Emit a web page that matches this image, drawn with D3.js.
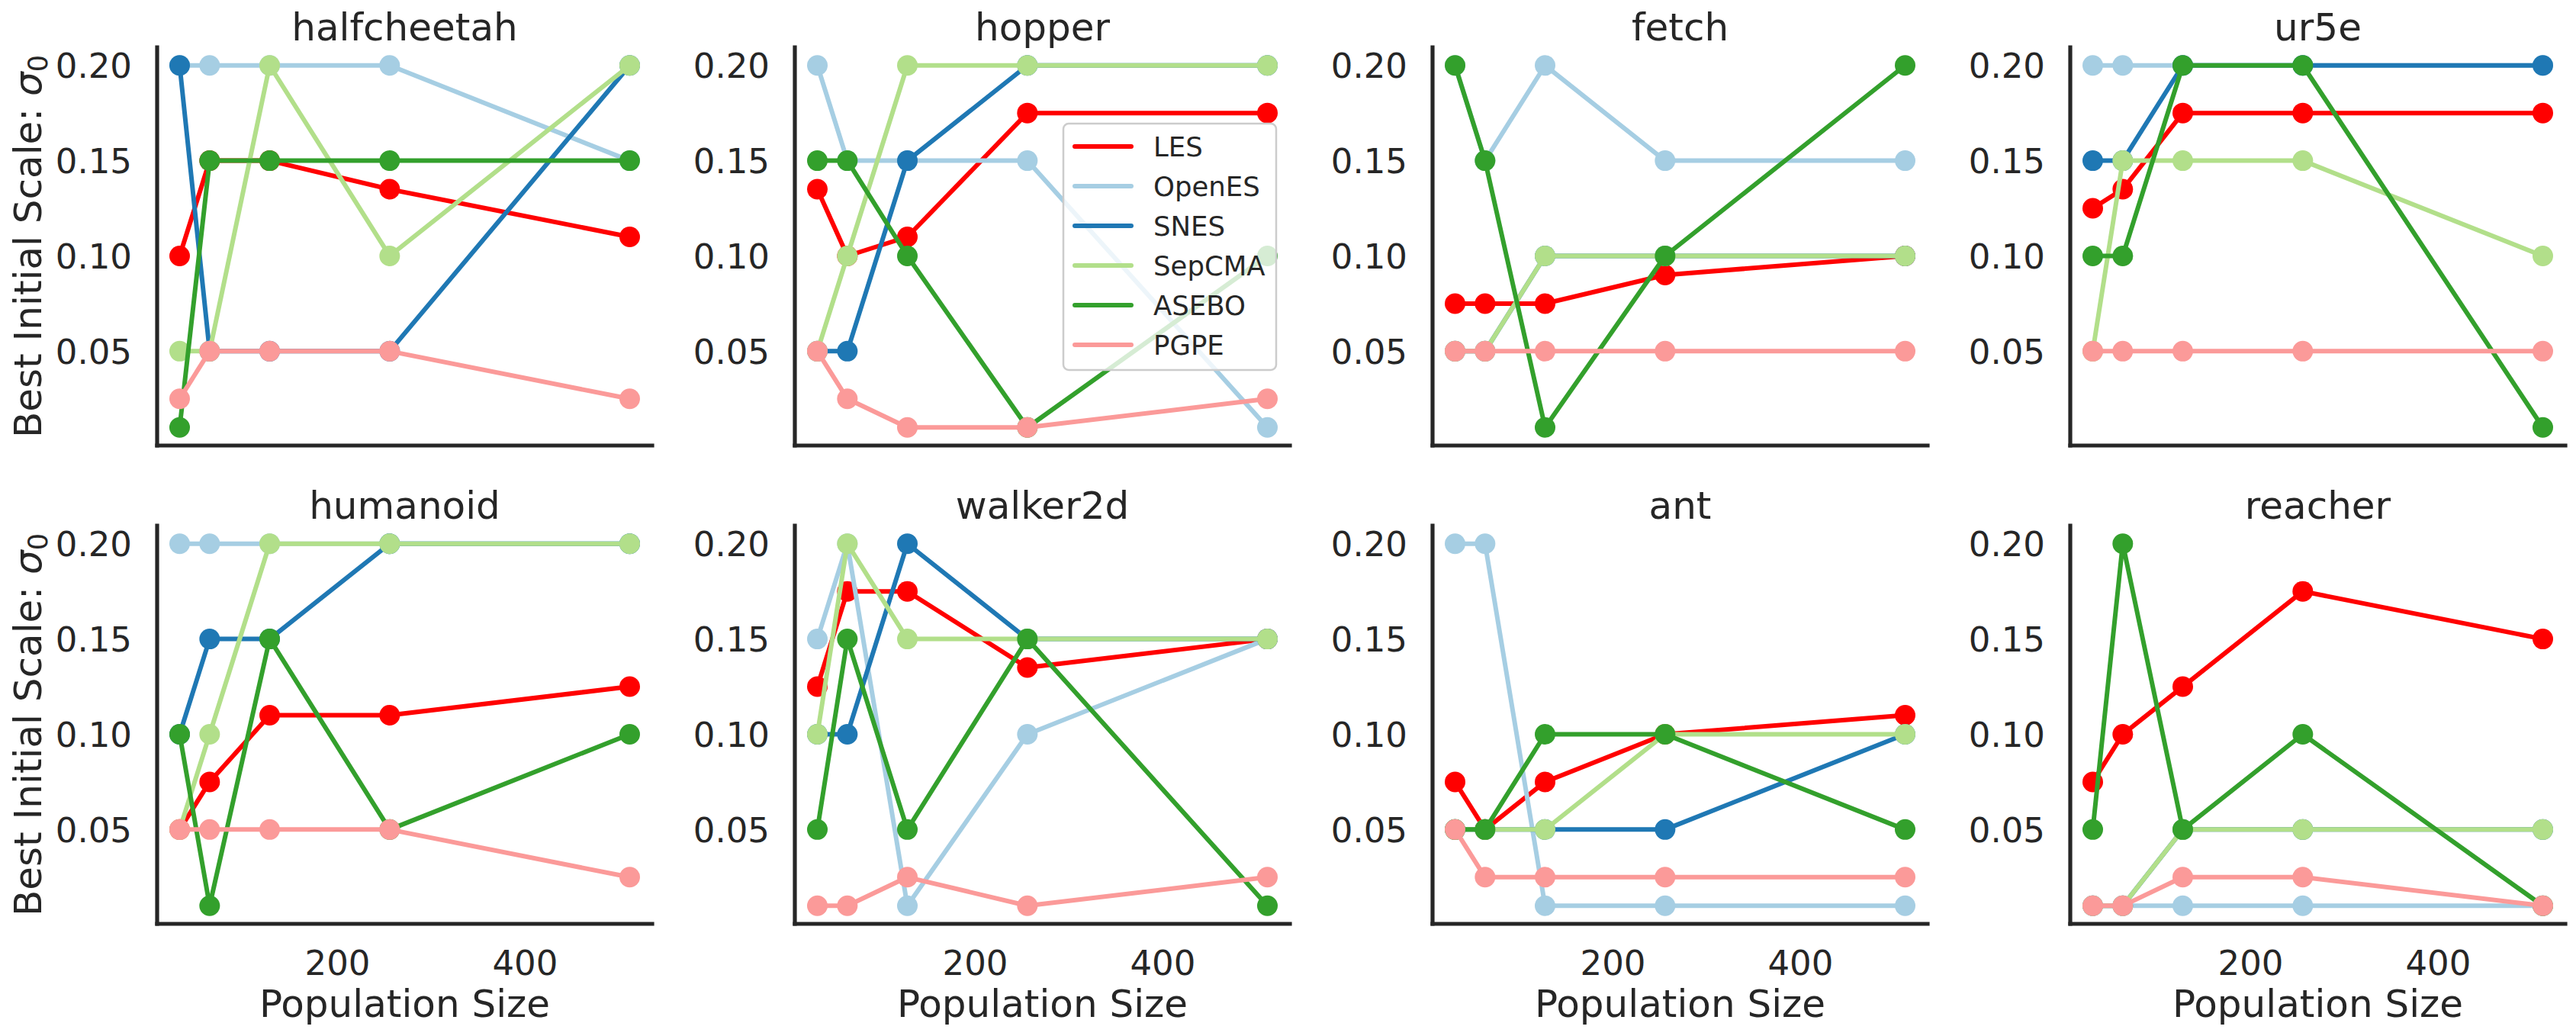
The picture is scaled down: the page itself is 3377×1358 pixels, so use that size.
<!DOCTYPE html>
<html>
<head>
<meta charset="utf-8">
<script src="https://cdn.jsdelivr.net/npm/d3@7"></script>
<style>
  body { margin: 0; background: #fff; }
  text { font-family: "DejaVu Sans", sans-serif; fill: #262626; }
</style>
</head>
<body>
<div id="chart"></div>
<script>
// Data
const popSizes = [32, 64, 128, 256, 512];
const methods = ["LES", "OpenES", "SNES", "SepCMA", "ASEBO", "PGPE"];
const methodColors = ["#ff0000", "#a6cee3", "#1f78b4", "#b2df8a", "#33a02c", "#fb9a99"];
const tasks = ["halfcheetah", "hopper", "fetch", "ur5e", "humanoid", "walker2d", "ant", "reacher"];
const yTicks = [0.05, 0.10, 0.15, 0.20];
const xTicks = [200, 400];

// one row per method (same order as `methods`), one value per population size
const halfcheetah = [
    [0.1, 0.15, 0.15, 0.135, 0.11],
    [0.2, 0.2, 0.2, 0.2, 0.15],
    [0.2, 0.05, 0.05, 0.05, 0.2],
    [0.05, 0.05, 0.2, 0.1, 0.2],
    [0.01, 0.15, 0.15, 0.15, 0.15],
    [0.025, 0.05, 0.05, 0.05, 0.025]
];
const hopper = [
    [0.135, 0.1, 0.11, 0.175, 0.175],
    [0.2, 0.15, 0.15, 0.15, 0.01],
    [0.05, 0.05, 0.15, 0.2, 0.2],
    [0.05, 0.1, 0.2, 0.2, 0.2],
    [0.15, 0.15, 0.1, 0.01, 0.1],
    [0.05, 0.025, 0.01, 0.01, 0.025]
];
const fetch = [
    [0.075, 0.075, 0.075, 0.09, 0.1],
    [0.2, 0.15, 0.2, 0.15, 0.15],
    [0.05, 0.05, 0.1, 0.1, 0.1],
    [0.05, 0.05, 0.1, 0.1, 0.1],
    [0.2, 0.15, 0.01, 0.1, 0.2],
    [0.05, 0.05, 0.05, 0.05, 0.05]
];
const ur5e = [
    [0.125, 0.135, 0.175, 0.175, 0.175],
    [0.2, 0.2, 0.2, 0.2, 0.2],
    [0.15, 0.15, 0.2, 0.2, 0.2],
    [0.05, 0.15, 0.15, 0.15, 0.1],
    [0.1, 0.1, 0.2, 0.2, 0.01],
    [0.05, 0.05, 0.05, 0.05, 0.05]
];
const humanoid = [
    [0.05, 0.075, 0.11, 0.11, 0.125],
    [0.2, 0.2, 0.2, 0.2, 0.2],
    [0.1, 0.15, 0.15, 0.2, 0.2],
    [0.05, 0.1, 0.2, 0.2, 0.2],
    [0.1, 0.01, 0.15, 0.05, 0.1],
    [0.05, 0.05, 0.05, 0.05, 0.025]
];
const walker2d = [
    [0.125, 0.175, 0.175, 0.135, 0.15],
    [0.15, 0.2, 0.01, 0.1, 0.15],
    [0.1, 0.1, 0.2, 0.15, 0.15],
    [0.1, 0.2, 0.15, 0.15, 0.15],
    [0.05, 0.15, 0.05, 0.15, 0.01],
    [0.01, 0.01, 0.025, 0.01, 0.025]
];
const ant = [
    [0.075, 0.05, 0.075, 0.1, 0.11],
    [0.2, 0.2, 0.01, 0.01, 0.01],
    [0.05, 0.05, 0.05, 0.05, 0.1],
    [0.05, 0.05, 0.05, 0.1, 0.1],
    [0.05, 0.05, 0.1, 0.1, 0.05],
    [0.05, 0.025, 0.025, 0.025, 0.025]
];
const reacher = [
    [0.075, 0.1, 0.125, 0.175, 0.15],
    [0.01, 0.01, 0.01, 0.01, 0.01],
    [0.01, 0.01, 0.05, 0.05, 0.05],
    [0.01, 0.01, 0.05, 0.05, 0.05],
    [0.05, 0.2, 0.05, 0.1, 0.01],
    [0.01, 0.01, 0.025, 0.025, 0.01]
];
const taskValues = [halfcheetah, hopper, fetch, ur5e, humanoid, walker2d, ant, reacher];

// Layout
const width = 3377, height = 1358;
const panelW = 649, panelH = 522;
const colLeft = [206, 1042, 1878, 2714];
const rowTop = [62, 689];

const svg = d3.select("#chart")
    .append("svg")
    .attr("width", width)
    .attr("height", height);

svg.append("rect").attr("width", width).attr("height", height).attr("fill", "#fff");

// matplotlib-like 5% margins around the data range
const xPad = (512 - 32) * 0.05, yPad = (0.2 - 0.01) * 0.05;
const x = d3.scaleLinear().domain([32 - xPad, 512 + xPad]).range([0, panelW]);
const y = d3.scaleLinear().domain([0.01 - yPad, 0.2 + yPad]).range([panelH, 0]);

const line = d3.line()
    .x((d, i) => x(popSizes[i]))
    .y(d => y(d));

tasks.forEach((task, t) => {
    const row = Math.floor(t / 4), col = t % 4;
    const g = svg.append("g")
        .attr("transform", `translate(${colLeft[col]},${rowTop[row]})`);

    // y axis
    const yAxis = g.append("g")
        .call(d3.axisLeft(y).tickValues(yTicks).tickFormat(d3.format(".2f")).tickSize(0).tickPadding(33));
    yAxis.select(".domain").remove();
    yAxis.selectAll("text")
        .attr("dy", "0.36em")
        .style("font-size", "45px")
        .style("font-family", "DejaVu Sans")
        .attr("fill", "#262626");

    // x axis tick labels only on the bottom row
    if (row === 1) {
        const xAxis = g.append("g")
            .attr("transform", `translate(0,${panelH})`)
            .call(d3.axisBottom(x).tickValues(xTicks).tickSize(0));
        xAxis.select(".domain").remove();
        xAxis.selectAll("text")
            .attr("y", 67)
            .attr("dy", 0)
            .style("font-size", "45px")
            .style("font-family", "DejaVu Sans")
            .attr("fill", "#262626");

        g.append("text")
            .attr("x", panelW / 2)
            .attr("y", panelH + 122)
            .attr("text-anchor", "middle")
            .style("font-size", "50px")
            .text("Population Size");
    }

    // spines
    g.append("line")
        .attr("x1", 0).attr("x2", 0).attr("y1", 0).attr("y2", panelH)
        .attr("stroke", "#262626").attr("stroke-width", 5.2).attr("stroke-linecap", "square");
    g.append("line")
        .attr("x1", 0).attr("x2", panelW).attr("y1", panelH).attr("y2", panelH)
        .attr("stroke", "#262626").attr("stroke-width", 5.2).attr("stroke-linecap", "square");

    // title
    g.append("text")
        .attr("x", panelW / 2)
        .attr("y", -9)
        .attr("text-anchor", "middle")
        .style("font-size", "50px")
        .text(task);

    // series, drawn in legend order (later ones on top)
    taskValues[t].forEach((vals, m) => {
        const s = g.append("g");
        s.append("path")
            .datum(vals)
            .attr("d", line)
            .attr("fill", "none")
            .attr("stroke", methodColors[m])
            .attr("stroke-width", 6)
            .attr("stroke-linejoin", "round")
            .attr("stroke-linecap", "round");
        s.selectAll("circle")
            .data(vals)
            .join("circle")
            .attr("cx", (d, i) => x(popSizes[i]))
            .attr("cy", d => y(d))
            .attr("r", 13.5)
            .attr("fill", methodColors[m]);
    });

    // y label on the first column
    if (col === 0) {
        const lab = svg.append("text")
            .attr("transform", `translate(54,${rowTop[row] + panelH / 2}) rotate(-90)`)
            .attr("text-anchor", "middle")
            .style("font-size", "50px");
        lab.append("tspan").text("Best Initial Scale: ");
        lab.append("tspan").style("font-style", "italic").text("σ");
        lab.append("tspan").attr("dy", "0.22em").style("font-size", "35px").text("0");
    }

    // legend in the hopper panel
    if (task === "hopper") {
        const lg = g.append("g").attr("transform", `translate(${1394 - colLeft[col]},${162 - rowTop[row]})`);
        lg.append("rect")
            .attr("width", 279)
            .attr("height", 323)
            .attr("rx", 7)
            .attr("fill", "#ffffff")
            .attr("fill-opacity", 0.8)
            .attr("stroke", "#cccccc")
            .attr("stroke-width", 2.5);
        methods.forEach((name, m) => {
            const cy = 30 + m * 52;
            lg.append("line")
                .attr("x1", 15).attr("x2", 89)
                .attr("y1", cy).attr("y2", cy)
                .attr("stroke", methodColors[m])
                .attr("stroke-width", 6)
                .attr("stroke-linecap", "round");
            lg.append("text")
                .attr("x", 118)
                .attr("y", cy + 13)
                .style("font-size", "35.5px")
                .text(name);
        });
    }
});
</script>
</body>
</html>
